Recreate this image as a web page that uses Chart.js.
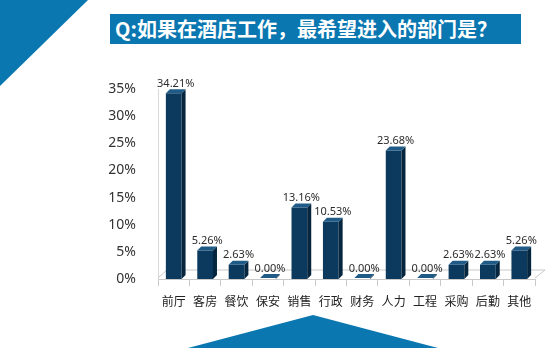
<!DOCTYPE html>
<html>
<head>
<meta charset="utf-8">
<script src="https://cdn.jsdelivr.net/npm/chart.js@4"></script>
<style>
  html, body { margin: 0; padding: 0; background: #fff; }
  #wrap { position: relative; width: 558px; height: 348px; overflow: hidden; }
  .tri-tl { position: absolute; left: 0; top: 0; width: 88px; height: 86px; background: #0a77b1;
            clip-path: polygon(0 0, 100% 0, 0 100%); }
  .tri-bt { position: absolute; left: 188px; top: 315px; width: 250px; height: 33px; background: #0a77b1;
            clip-path: polygon(50% 0, 100% 100%, 0 100%); }
  .title { position: absolute; left: 110px; top: 14px; width: 411px; height: 30px; background: #0a77b1;
           color: #fff; font-family: "Noto Sans CJK SC", sans-serif; font-weight: bold; font-size: 20px;
           line-height: 30px; padding-left: 5px; box-sizing: border-box; }
  canvas { position: absolute; left: 0; top: 0; }
</style>
</head>
<body>
<div id="wrap">
  <div class="tri-tl"></div>
  <div class="title">Q:如果在酒店工作，最希望进入的部门是？</div>
  <canvas id="chart" width="558" height="348"></canvas>
  <div class="tri-bt"></div>
</div>
<script>
// data
var departments = ['前厅', '客房', '餐饮', '保安', '销售', '行政', '财务', '人力', '工程', '采购', '后勤', '其他'];
var shares = [34.21, 5.26, 2.63, 0.00, 13.16, 10.53, 0.00, 23.68, 0.00, 2.63, 2.63, 5.26];
var yTicks = [0, 5, 10, 15, 20, 25, 30, 35];

// fake 3D bars: side + top faces, floor and value labels
var bar3d = {
    id: 'bar3d',
    beforeDatasetsDraw: function (chart) {
        var c = chart.ctx, a = chart.chartArea;
        c.save();
        c.strokeStyle = '#c8c8c8';
        c.lineWidth = 1;
        c.beginPath();
        c.moveTo(a.left, a.bottom - 1);
        c.lineTo(a.left + 9, a.bottom - 9);
        c.lineTo(a.right + 10, a.bottom - 9);
        c.lineTo(a.right, a.bottom - 1);
        c.stroke();
        c.restore();
    },
    afterDatasetsDraw: function (chart) {
        var c = chart.ctx;
        var meta = chart.getDatasetMeta(0);
        var d = 4;
        c.save();
        meta.data.forEach(function (bar, i) {
            var l = bar.x - bar.width / 2, r = bar.x + bar.width / 2;
            var top = Math.min(bar.y, bar.base - 1), bottom = bar.base;
            c.fillStyle = '#06263f';
            c.beginPath();
            c.moveTo(r, top); c.lineTo(r + d, top - d); c.lineTo(r + d, bottom - d); c.lineTo(r, bottom);
            c.closePath(); c.fill();
            c.fillStyle = '#1f5b86';
            c.beginPath();
            c.moveTo(l, top); c.lineTo(l + d, top - d); c.lineTo(r + d, top - d); c.lineTo(r, top);
            c.closePath(); c.fill();
            c.fillStyle = '#2b2b2b';
            c.font = '11px "Noto Sans", sans-serif';
            c.textAlign = 'center';
            c.textBaseline = 'bottom';
            c.fillText(shares[i].toFixed(2) + '%', bar.x + 2, top - 4);
        });
        c.restore();
    }
};

var ctx = document.getElementById('chart').getContext('2d');
new Chart(ctx, {
    type: 'bar',
    data: {
        labels: departments,
        datasets: [{
            data: shares,
            backgroundColor: '#0b3a5e',
            categoryPercentage: 1,
            barPercentage: 0.5
        }]
    },
    options: {
        responsive: false,
        animation: false,
        layout: { padding: { left: 104, top: 89, right: 23, bottom: 0 } },
        plugins: { legend: { display: false }, tooltip: { enabled: false } },
        scales: {
            x: {
                afterFit: function (scale) { scale.height = 69; },
                grid: { display: true, drawOnChartArea: false, tickLength: 7, color: '#c8c8c8', offset: true },
                border: { color: '#c8c8c8' },
                ticks: {
                    color: '#222', padding: 8, maxRotation: 0, minRotation: 0, autoSkip: false,
                    font: { size: 12, family: '"Noto Sans CJK SC", sans-serif' }
                }
            },
            y: {
                min: 0,
                max: 35,
                afterBuildTicks: function (scale) {
                    scale.ticks = yTicks.map(function (v) { return { value: v }; });
                },
                afterFit: function (scale) { scale.width = 54; },
                grid: { display: false },
                border: { color: '#d8d8d8' },
                ticks: {
                    color: '#333',
                    padding: 14,
                    font: { size: 14, family: '"Noto Sans", sans-serif' },
                    callback: function (v) { return v + '%'; }
                }
            }
        }
    },
    plugins: [bar3d]
});
</script>
</body>
</html>
